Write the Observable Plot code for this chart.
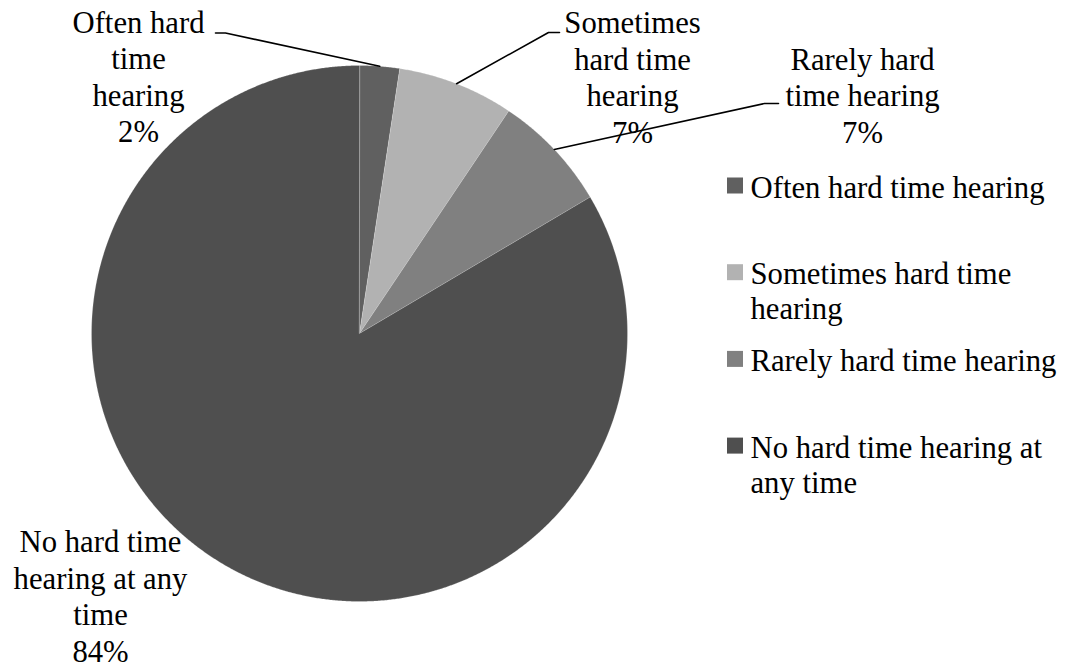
<!DOCTYPE html>
<html><head><meta charset="utf-8">
<script src="https://cdn.jsdelivr.net/npm/d3@7"></script>
<script src="https://cdn.jsdelivr.net/npm/@observablehq/plot@0.6"></script>
<style>body{margin:0;background:#fff} #chart{width:1075px;height:666px}</style>
</head><body><div id="chart"></div>
<script>
// ---- data ----
const categories = ["Often hard time hearing","Sometimes hard time hearing","Rarely hard time hearing","No hard time hearing at any time"];
const shares = [2.4, 7.0, 7.1, 83.5];
const colors = ["#606060","#b2b2b2","#808080","#4f4f4f"];
const dataLabelText = ["Often hard\ntime\nhearing","Sometimes\nhard time\nhearing","Rarely hard\ntime hearing","No hard time\nhearing at any\ntime"];
const legendText = ["Often hard time hearing","Sometimes hard time\nhearing","Rarely hard time hearing","No hard time hearing at\nany time"];

// ---- layout ----
const W = 1075, H = 666, cx = 359, cy = 333, R = 268;
const FONT = "Liberation Serif";
const FS = 30.7;
const labelLayout = [
  {x: 138, y: 141.5, ex: 225, hx: 215, ey: 32.5},
  {x: 632, y: 142,   ex: 548, hx: 559, ey: 32},
  {x: 862, y: 142,   ex: 764, hx: 778, ey: 103},
  {x: 100, y: 661,   ex: null}
];
const legendX = 727, legendBase0 = 197, legendStep = 86.7, legendLine = 35;

const arcs = d3.pie().sort(null).value(d => d)(shares);
const pt = (a, r) => [cx + r * Math.sin(a), cy - r * Math.cos(a)];

const slicePts = [];
arcs.forEach((a, i) => {
  slicePts.push({k: i, x: cx, y: cy, c: colors[i]});
  const n = Math.max(2, Math.ceil((a.endAngle - a.startAngle) / 0.005));
  for (let j = 0; j <= n; j++) {
    const t = a.startAngle + (a.endAngle - a.startAngle) * j / n;
    const [x, y] = pt(t, R);
    slicePts.push({k: i, x, y, c: colors[i]});
  }
});

const labels = arcs.map((a, i) => ({
  text: dataLabelText[i] + "\n" + Math.round(shares[i]) + "%",
  x: labelLayout[i].x, y: labelLayout[i].y
}));

const leaders = [];
arcs.forEach((a, i) => {
  const L = labelLayout[i];
  if (L.ex == null) return;
  const [x, y] = pt((a.startAngle + a.endAngle) / 2, R);
  leaders.push({k: i, x, y}, {k: i, x: L.ex, y: L.ey}, {k: i, x: L.hx, y: L.ey});
});

const legend = categories.map((c, i) => {
  const base = legendBase0 + i * legendStep;
  const n = legendText[i].split("\n").length;
  return {text: legendText[i], c: colors[i], base, ty: base + (n - 1) * legendLine};
});

const chart = Plot.plot({
  width: W, height: H, margin: 0,
  x: {domain: [0, W], range: [0, W], axis: null},
  y: {domain: [0, H], range: [0, H], axis: null},
  color: {type: "identity"},
  style: {background: "white", color: "black"},
  marks: [
    Plot.line(slicePts, {x: "x", y: "y", z: "k", fill: "c", stroke: "white", strokeOpacity: 0.25, strokeWidth: 0.8, curve: "linear-closed"}),
    Plot.line(leaders, {x: "x", y: "y", z: "k", stroke: "black", strokeWidth: 1.6}),
    Plot.text(labels, {x: "x", y: "y", text: "text", textAnchor: "middle", lineAnchor: "bottom", lineHeight: 36.5 / FS, fontSize: FS, fill: "black"}),
    Plot.rect(legend, {x1: () => legendX, x2: () => legendX + 16, y1: d => d.base - 19.5, y2: d => d.base - 3.5, fill: "c"}),
    Plot.text(legend, {x: () => legendX + 23, y: "ty", text: "text", textAnchor: "start", lineAnchor: "bottom", lineHeight: legendLine / FS, fontSize: FS, fill: "black"})
  ]
});
chart.setAttribute("font-family", FONT);
chart.style.fontFamily = "'Liberation Serif', serif";
chart.querySelectorAll("g, text, tspan").forEach(el => {
  if (el.hasAttribute("font-family")) el.setAttribute("font-family", FONT);
  if (el.tagName === "text") el.style.fontFamily = "'Liberation Serif', serif";
});
document.getElementById("chart").appendChild(chart);
</script>
</body></html>
